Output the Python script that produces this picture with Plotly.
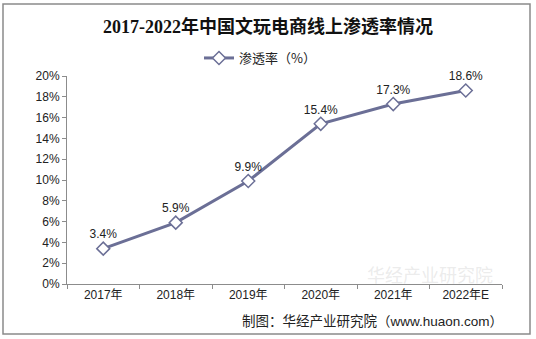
import plotly.graph_objects as go

categories = ["2017年", "2018年", "2019年", "2020年", "2021年", "2022年E"]
values = [3.4, 5.9, 9.9, 15.4, 17.3, 18.6]
labels = ["3.4%", "5.9%", "9.9%", "15.4%", "17.3%", "18.6%"]
y_ticks = [0, 2, 4, 6, 8, 10, 12, 14, 16, 18, 20]
y_tick_labels = [f"{v}%" for v in y_ticks]

W, H = 536, 339
L, R, T, B = 67, 34, 76, 55
pw, ph = W - L - R, H - T - B

def px(x):
    return (x - L) / pw

def py(y):
    return (H - B - y) / ph

line_color = "#6B6F96"

fig = go.Figure()
fig.add_trace(go.Scatter(
    x=categories, y=values, mode="lines+markers+text",
    name="渗透率（%）",
    text=labels, textposition="top center",
    textfont=dict(family="Liberation Sans, Arial, sans-serif", size=12, color="#222"),
    line=dict(color=line_color, width=3),
    marker=dict(symbol="diamond", size=10, color="white",
                line=dict(color=line_color, width=1.5)),
    cliponaxis=False,
))

fig.update_layout(
    width=W, height=H,
    margin=dict(l=L, r=R, t=T, b=B),
    paper_bgcolor="white", plot_bgcolor="white",
    title=dict(text="<b>2017-2022年中国文玩电商线上渗透率情况</b>",
               x=0.5, xanchor="center", y=1 - 27 / H, yanchor="middle",
               font=dict(family="Liberation Serif, Noto Sans CJK SC, serif", size=18, color="#111")),
    showlegend=True,
    legend=dict(orientation="h", x=px(260), xanchor="center", y=py(58), yanchor="middle",
                font=dict(family="Noto Sans CJK SC, sans-serif", size=13, color="#222"),
                bgcolor="rgba(0,0,0,0)"),
    xaxis=dict(type="category", range=[-0.5, len(categories) - 0.5],
               showline=True, linecolor="#8c8c8c", linewidth=1,
               ticks="outside", tickson="boundaries", ticklen=4, tickcolor="#8c8c8c",
               showgrid=False, zeroline=False,
               tickfont=dict(family="Liberation Sans, Noto Sans CJK SC, sans-serif", size=12, color="#222")),
    yaxis=dict(range=[0, 20], tickvals=y_ticks, ticktext=y_tick_labels,
               showline=True, linecolor="#8c8c8c", linewidth=1,
               ticks="outside", ticklen=4, tickcolor="#8c8c8c",
               showgrid=False, zeroline=False,
               tickfont=dict(family="Liberation Sans, Arial, sans-serif", size=12, color="#222")),
    font=dict(family="Liberation Sans, Noto Sans CJK SC, sans-serif"),
)

# outer border
fig.add_shape(type="rect", xref="paper", yref="paper",
              x0=px(3), x1=px(530), y0=py(334), y1=py(4),
              line=dict(color="#8a8a8a", width=1.5), fillcolor="rgba(0,0,0,0)")

# watermark
fig.add_annotation(text="华经产业研究院", xref="paper", yref="paper",
                   x=px(430), xanchor="center", y=py(274), yanchor="middle", showarrow=False,
                   font=dict(family="Noto Sans CJK SC, sans-serif", size=18, color="rgba(190,190,190,0.3)"))

# source note
fig.add_annotation(text="制图：华经产业研究院（www.huaon.com）", xref="paper", yref="paper",
                   x=px(505), xanchor="right", y=py(321), yanchor="middle", showarrow=False,
                   font=dict(family="Liberation Sans, Noto Sans CJK SC, sans-serif", size=13.5, color="#222"))

fig.write_html("out.html")
